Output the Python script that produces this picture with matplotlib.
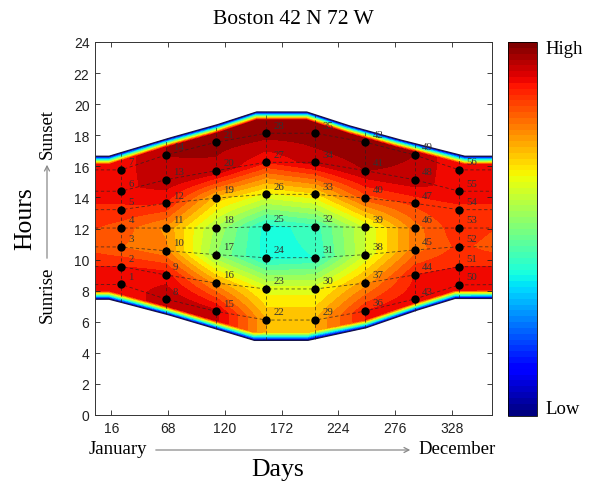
import numpy as np
import matplotlib
matplotlib.use('Agg')
import matplotlib.pyplot as plt
from matplotlib.patches import Polygon, FancyArrowPatch
from matplotlib.cm import ScalarMappable
from matplotlib.colors import Normalize

# ---------------- data ----------------
col_days = [25, 66, 112, 158, 203, 249, 294, 335]
# hours of the 7 sample points in each column (bottom -> top)
col_hours = [
    [8.40, 9.55, 10.81, 12.03, 13.21, 14.40, 15.77],
    [7.46, 9.01, 10.57, 12.03, 13.62, 15.14, 16.73],
    [6.67, 8.49, 10.32, 12.03, 13.96, 15.72, 17.55],
    [6.11, 8.11, 10.12, 12.12, 14.20, 16.26, 18.13],
    [6.11, 8.11, 10.12, 12.12, 14.20, 16.26, 18.13],
    [6.69, 8.49, 10.32, 12.08, 13.96, 15.72, 17.55],
    [7.46, 9.01, 10.62, 12.03, 13.62, 15.14, 16.73],
    [8.37, 9.54, 10.83, 12.03, 13.21, 14.40, 15.77],
]
# relative level at each sample point (0 = Low, 1 = High)
col_values = [
    [0.88, 0.88, 0.80, 0.82, 0.87, 0.90, 0.90],
    [0.95, 0.90, 0.77, 0.75, 0.88, 0.95, 0.96],
    [0.93, 0.74, 0.52, 0.55, 0.70, 0.95, 0.97],
    [0.72, 0.62, 0.38, 0.38, 0.63, 0.88, 0.98],
    [0.72, 0.62, 0.40, 0.42, 0.67, 0.94, 0.98],
    [0.88, 0.74, 0.60, 0.60, 0.82, 0.96, 0.98],
    [0.90, 0.88, 0.78, 0.78, 0.85, 0.95, 0.96],
    [0.90, 0.88, 0.85, 0.87, 0.88, 0.88, 0.88],
]
sunrise_days = [1, 14, 66, 112, 147, 196, 249, 294, 331, 365]
sunrise = [7.45, 7.45, 6.5, 5.55, 4.8, 4.8, 5.6, 6.7, 7.5, 7.5]
sunset_days = [1, 14, 66, 112, 149, 195, 232, 278, 340, 365]
sunset = [16.65, 16.65, 17.75, 18.65, 19.5, 19.5, 18.65, 17.75, 16.65, 16.65]

xticks = [16, 68, 120, 172, 224, 276, 328]
yticks = list(range(0, 25, 2))
title = 'Boston 42 N 72 W'

# ---------------- build field ----------------
H = np.array(col_hours)
V = np.array(col_values)
ext_days = np.r_[col_days[-1] - 365, col_days, col_days[0] + 365]
ext_H = np.vstack([H[-1], H, H[0]])
ext_V = np.vstack([V[-1], V, V[0]])

xg = np.linspace(1, 365, 730)
yg = np.linspace(0, 24, 1201)
X, Y = np.meshgrid(xg, yg)
sr = np.interp(xg, sunrise_days, sunrise)
ss = np.interp(xg, sunset_days, sunset)
Z = np.zeros_like(X)
band = 0.55
for j, d in enumerate(xg):
    hk = [np.interp(d, ext_days, ext_H[:, k]) for k in range(7)]
    vk = [np.interp(d, ext_days, ext_V[:, k]) for k in range(7)]
    ph = np.r_[sr[j], hk, ss[j]]
    pv = np.r_[vk[0], vk, vk[-1]]
    z = np.interp(yg, ph, pv)
    edge = np.minimum(yg - sr[j], ss[j] - yg)
    Z[:, j] = z * np.clip(edge / band, 0, 1)

serif = ['Liberation Serif', 'DejaVu Serif']
sans = ['Liberation Sans', 'DejaVu Sans']

fig = plt.figure(figsize=(6.14, 4.85), dpi=100)
W, Hpx = 614, 485
ax = fig.add_axes([95 / W, 1 - 416 / Hpx, (492 - 95) / W, (416 - 43) / Hpx])

cf = ax.contourf(X, Y, Z, levels=np.linspace(0, 1, 26), cmap='jet', zorder=1)
verts = np.c_[np.r_[xg, xg[::-1]], np.r_[sr, ss[::-1]]]
clip = Polygon(verts, closed=True, transform=ax.transData, facecolor='none', edgecolor='none')
ax.add_patch(clip)
cf.set_clip_path(clip)
ax.plot(xg, sr, color='#15154a', lw=0.9, zorder=2)
ax.plot(xg, ss, color='#15154a', lw=0.9, zorder=2)

# dashed grid through the sample points
xr = np.r_[1, col_days, 365]
for k in range(7):
    ax.plot(xr, np.interp(xr, ext_days, ext_H[:, k]), ls=(0, (4, 3)), color='#222222',
            lw=0.6, alpha=0.75, zorder=3)
for d in col_days:
    ax.plot([d, d], [np.interp(d, sunrise_days, sunrise), np.interp(d, sunset_days, sunset)],
            ls=(0, (4, 3)), color='#222222', lw=0.6, alpha=0.75, zorder=3)

# sample points and their numbers
n = 1
for c, d in enumerate(col_days):
    for k in range(7):
        ax.scatter([d], [col_hours[c][k]], s=36, color='black', zorder=5, linewidths=0)
        ax.annotate(str(n), (d, col_hours[c][k]), xytext=(5.2, 5.8), textcoords='offset points',
                    fontsize=7.8, family=serif, color='#333333', ha='left', va='center', zorder=6)
        n += 1

ax.set_xlim(1, 365)
ax.set_ylim(0, 24)
ax.set_xticks(xticks)
ax.set_yticks(yticks)
ax.tick_params(direction='in', top=True, right=True, length=3.5, width=0.6,
               labelsize=10, colors='#222222', pad=4)
for lab in ax.get_xticklabels() + ax.get_yticklabels():
    lab.set_family(sans)
for sp in ax.spines.values():
    sp.set_linewidth(0.7)
    sp.set_color('#333333')

# colour bar
cax = fig.add_axes([508 / W, 1 - 416.5 / Hpx, 29 / W, (416.5 - 43) / Hpx])
cb = fig.colorbar(ScalarMappable(norm=Normalize(0, 1), cmap=plt.get_cmap('jet', 64)), cax=cax)
cb.set_ticks([])
cb.outline.set_linewidth(0.6)
fig.text(545 / W, 1 - 49 / Hpx, 'High', family=serif, fontsize=13.5, ha='left', va='center')
fig.text(545 / W, 1 - 410 / Hpx, 'Low', family=serif, fontsize=13.5, ha='left', va='center')

# titles and labels
fig.text(293 / W, 1 - 19 / Hpx, title, family=serif, fontsize=15.5, ha='center', va='center')
fig.text(25 / W, 1 - 219 / Hpx, 'Hours', family=serif, fontsize=18.5, rotation=90, ha='center', va='center')
fig.text(47 / W, 1 - 295 / Hpx, 'Sunrise', family=serif, fontsize=13.5, rotation=90, ha='center', va='center')
fig.text(47 / W, 1 - 134 / Hpx, 'Sunset', family=serif, fontsize=13.5, rotation=90, ha='center', va='center')
fig.text(118 / W, 1 - 450 / Hpx, 'January', family=serif, fontsize=13.5, ha='center', va='center')
fig.text(457 / W, 1 - 450 / Hpx, 'December', family=serif, fontsize=13.5, ha='center', va='center')
fig.text(278 / W, 1 - 470 / Hpx, 'Days', family=serif, fontsize=18.5, ha='center', va='center')
astyle = '->,head_length=0.35,head_width=0.18'
fig.add_artist(FancyArrowPatch((47 / W, 1 - 262 / Hpx), (47 / W, 1 - 163 / Hpx),
               transform=fig.transFigure, arrowstyle=astyle, color='#8a8a8a',
               lw=0.9, mutation_scale=10))
fig.add_artist(FancyArrowPatch((153 / W, 1 - 451 / Hpx), (413 / W, 1 - 451 / Hpx),
               transform=fig.transFigure, arrowstyle=astyle, color='#8a8a8a',
               lw=0.9, mutation_scale=10))

fig.savefig('out.png', dpi=100)
